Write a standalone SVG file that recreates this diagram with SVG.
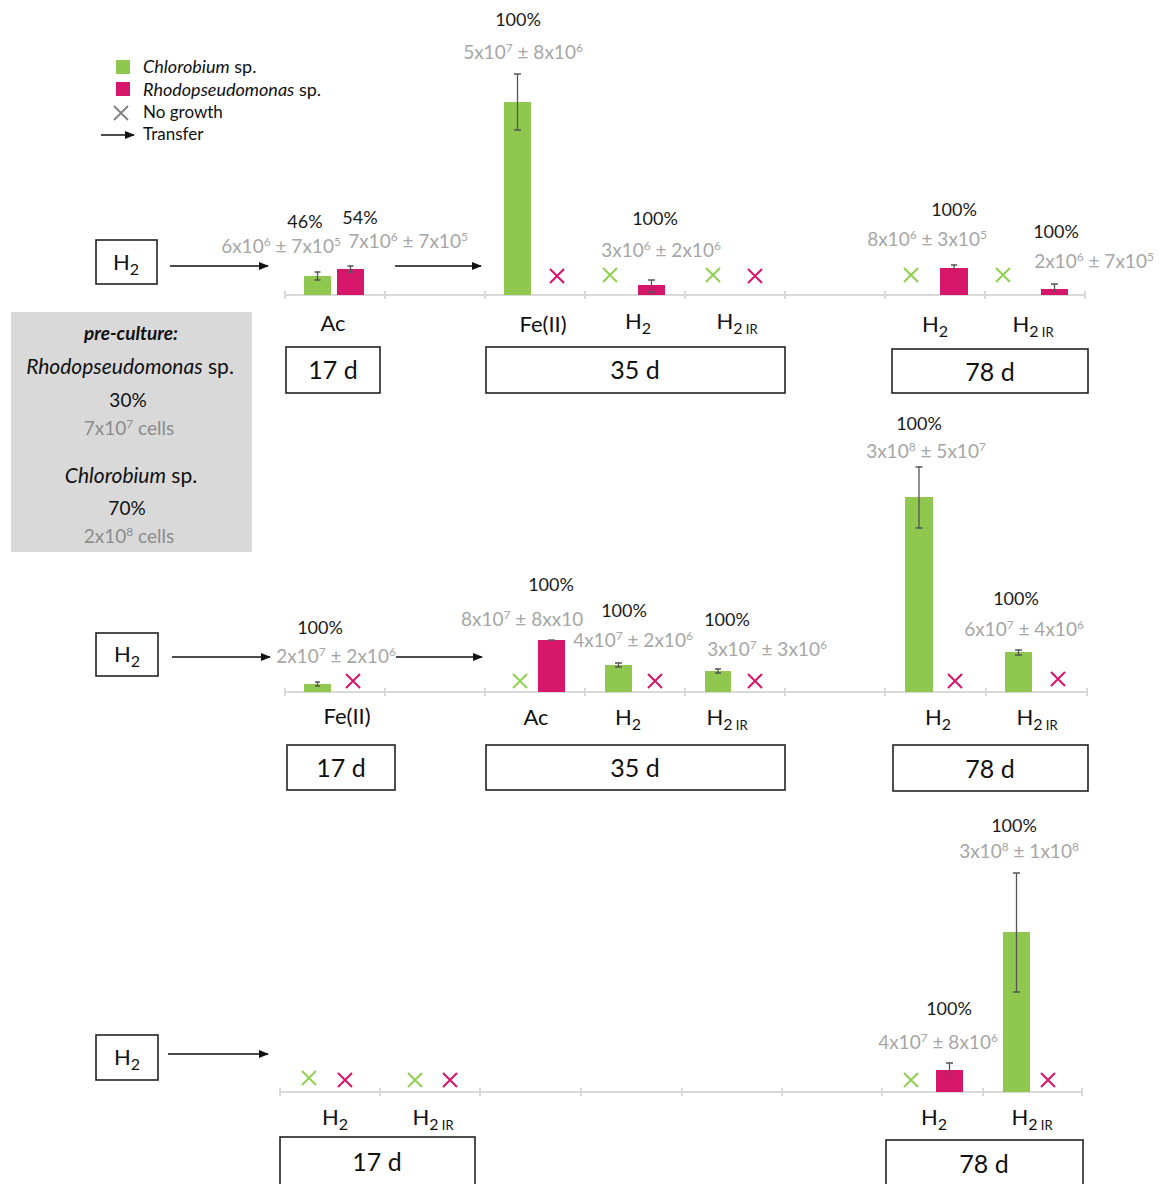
<svg xmlns="http://www.w3.org/2000/svg" xmlns:xlink="http://www.w3.org/1999/xlink" width="1159" height="1184" viewBox="0 0 1159 1184">
<defs>
<style>
text{font-family:Lato,"Open Sans","Liberation Sans",sans-serif}
.pct{font-size:18px;fill:#1a1a1a;text-anchor:middle}
.val{font-size:19px;fill:#a6a6a6;text-anchor:middle}
.cat{font-size:22px;fill:#111;text-anchor:middle}
.day{font-size:25px;fill:#111;text-anchor:middle}
.lg{font-size:17px;fill:#111}
.pc{font-size:19px;fill:#111;text-anchor:middle}
.gbar{fill:#8fc74f}
.pbar{fill:#d5166b}
.xg{stroke:#8fd14f;stroke-width:2;fill:none}
.xp{stroke:#d6146a;stroke-width:2;fill:none}
.axis{stroke:#d9d9d9;stroke-width:2;fill:none}
.err{stroke:#555;stroke-width:1.3;fill:none}
.box{fill:#fff;stroke:#222;stroke-width:1.6}
.arr{stroke:#111;stroke-width:1.6;fill:none;marker-end:url(#ah)}
</style>
<marker id="ah" viewBox="0 0 10 10" refX="9" refY="5" markerWidth="10" markerHeight="10" markerUnits="userSpaceOnUse" orient="auto">
<path d="M0,1 L10,5 L0,9 Z" fill="#111"/>
</marker>
<path id="xm" d="M-7,-7 L7,7 M7,-7 L-7,7"/>
</defs>
<rect width="1159" height="1184" fill="#fff"/>

<g id="legend">
<rect x="116" y="60" width="14" height="14" class="gbar"/>
<text class="lg" x="143" y="73" font-size="18" style="font-size:18px"><tspan font-style="italic">Chlorobium</tspan> sp.</text>
<rect x="116" y="82" width="14" height="14" class="pbar"/>
<text class="lg" x="143" y="96" style="font-size:18px"><tspan font-style="italic">Rhodopseudomonas</tspan> sp.</text>
<use xlink:href="#xm" x="121" y="113" stroke="#808080" stroke-width="1.8" fill="none"/>
<text class="lg" x="143" y="118">No growth</text>
<line x1="101" y1="135" x2="134" y2="135" class="arr"/>
<text class="lg" x="143" y="140">Transfer</text>
</g>

<g id="preculture">
<rect x="11" y="312" width="241" height="240" fill="#d9d9d9"/>
<text class="pc" x="131" y="340" font-weight="bold" font-style="italic">pre-culture:</text>
<text class="pc" x="130" y="374" style="font-size:21px"><tspan font-style="italic">Rhodopseudomonas</tspan> sp.</text>
<text class="pc" x="128" y="407">30%</text>
<text class="pc" x="129" y="435" style="fill:#8c8c8c">7x10<tspan dy="-7" font-size="12">7</tspan><tspan dy="7"> cells</tspan></text>
<text class="pc" x="131" y="483" style="font-size:21px"><tspan font-style="italic">Chlorobium</tspan> sp.</text>
<text class="pc" x="127" y="515">70%</text>
<text class="pc" x="129" y="543" style="fill:#8c8c8c">2x10<tspan dy="-7" font-size="12">8</tspan><tspan dy="7"> cells</tspan></text>
</g>

<!-- Row 1 -->
<g id="r1-h2">
<rect x="96" y="240" width="61" height="44" class="box"/>
<text class="cat" x="126" y="270">H<tspan dy="5" font-size="16">2</tspan></text>
</g>
<g id="r1-axis">
<line x1="285" y1="295" x2="1085" y2="295" class="axis"/>
<path class="axis" d="M285,291V299M385,291V299M485,291V299M585,291V299M685,291V299M785,291V299M885,291V299M985,291V299M1085,291V299"/>
</g>
<g id="r1-ac">
<rect x="304" y="276" width="27" height="19" class="gbar"/>
<path class="err" d="M317.5,272V280M314.5,272H320.5M314.5,280H320.5"/>
<rect x="337" y="269" width="27" height="26" class="pbar"/>
<path class="err" d="M350.5,266V272M347.5,266H353.5M347.5,272H353.5"/>
<text class="pct" x="305" y="228">46%</text>
<text class="pct" x="360" y="224">54%</text>
<text class="val" x="281" y="253">6x10<tspan dy="-7" font-size="12">6</tspan><tspan dy="7"> ± 7x10</tspan><tspan dy="-7" font-size="12">5</tspan></text>
<text class="val" x="408" y="248">7x10<tspan dy="-7" font-size="12">6</tspan><tspan dy="7"> ± 7x10</tspan><tspan dy="-7" font-size="12">5</tspan></text>
<text class="cat" x="333" y="331">Ac</text>
</g>
<g id="r1-fe">
<rect x="504" y="102" width="27" height="193" class="gbar"/>
<path class="err" d="M517.5,74V130M514,74H521M514,130H521"/>
<use xlink:href="#xm" x="557" y="276" class="xp"/>
<text class="pct" x="518" y="26">100%</text>
<text class="val" x="523" y="59">5x10<tspan dy="-7" font-size="12">7</tspan><tspan dy="7"> ± 8x10</tspan><tspan dy="-7" font-size="12">6</tspan></text>
<text class="cat" x="543" y="332">Fe(II)</text>
</g>
<g id="r1-h2-35">
<use xlink:href="#xm" x="610" y="275" class="xg"/>
<rect x="638" y="285" width="27" height="10" class="pbar"/>
<path class="err" d="M651.5,280V292M648,280H655M648,292H655"/>
<text class="pct" x="655" y="225">100%</text>
<text class="val" x="661" y="257">3x10<tspan dy="-7" font-size="12">6</tspan><tspan dy="7"> ± 2x10</tspan><tspan dy="-7" font-size="12">6</tspan></text>
<text class="cat" x="638" y="329">H<tspan dy="5" font-size="16">2</tspan></text>
</g>
<g id="r1-h2ir-35">
<use xlink:href="#xm" x="713" y="275" class="xg"/>
<use xlink:href="#xm" x="755" y="276" class="xp"/>
<text class="cat" x="737" y="329">H<tspan dy="5" font-size="16">2</tspan><tspan font-size="13"> IR</tspan></text>
</g>
<g id="r1-h2-78">
<use xlink:href="#xm" x="911" y="275" class="xg"/>
<rect x="940" y="268" width="28" height="27" class="pbar"/>
<path class="err" d="M954,265V270M951,265H957"/>
<text class="pct" x="954" y="216">100%</text>
<text class="val" x="927" y="246">8x10<tspan dy="-7" font-size="12">6</tspan><tspan dy="7"> ± 3x10</tspan><tspan dy="-7" font-size="12">5</tspan></text>
<text class="cat" x="935" y="332">H<tspan dy="5" font-size="16">2</tspan></text>
</g>
<g id="r1-h2ir-78">
<use xlink:href="#xm" x="1003" y="275" class="xg"/>
<rect x="1041" y="289" width="27" height="6" class="pbar"/>
<path class="err" d="M1054.5,284V292M1051,284H1058"/>
<text class="pct" x="1056" y="238">100%</text>
<text class="val" x="1094" y="268">2x10<tspan dy="-7" font-size="12">6</tspan><tspan dy="7"> ± 7x10</tspan><tspan dy="-7" font-size="12">5</tspan></text>
<text class="cat" x="1033" y="332">H<tspan dy="5" font-size="16">2</tspan><tspan font-size="13"> IR</tspan></text>
</g>
<g id="r1-d17"><rect x="286" y="347" width="94" height="46" class="box"/><text class="day" x="333" y="379">17 d</text></g>
<g id="r1-d35"><rect x="486" y="347" width="299" height="46" class="box"/><text class="day" x="635" y="379">35 d</text></g>
<g id="r1-d78"><rect x="892" y="349" width="196" height="44" class="box"/><text class="day" x="990" y="381">78 d</text></g>

<!-- Row 2 -->
<g id="r2-h2">
<rect x="96" y="633" width="62" height="43" class="box"/>
<text class="cat" x="127" y="662">H<tspan dy="5" font-size="16">2</tspan></text>
</g>
<g id="r2-axis">
<line x1="285" y1="692" x2="1087" y2="692" class="axis"/>
<path class="axis" d="M285,688V696M385,688V696M485,688V696M585,688V696M685,688V696M785,688V696M885,688V696M986,688V696M1087,688V696"/>
</g>
<g id="r2-fe">
<rect x="304" y="684" width="27" height="8" class="gbar"/>
<path class="err" d="M317.5,682V686M315,682H320M315,686H320"/>
<use xlink:href="#xm" x="353" y="681" class="xp"/>
<text class="pct" x="320" y="634">100%</text>
<text class="val" x="336" y="663">2x10<tspan dy="-7" font-size="12">7</tspan><tspan dy="7"> ± 2x10</tspan><tspan dy="-7" font-size="12">6</tspan></text>
<text class="cat" x="347" y="724">Fe(II)</text>
</g>
<g id="r2-ac">
<use xlink:href="#xm" x="520" y="681" class="xg"/>
<rect x="538" y="640" width="27" height="52" class="pbar"/>
<path class="err" d="M548,640H555"/>
<text class="pct" x="551" y="591">100%</text>
<text class="val" x="461" y="626" style="text-anchor:start">8x10<tspan dy="-7" font-size="12">7</tspan><tspan dy="7"> ± 8xx10</tspan></text>
<text class="cat" x="536" y="725">Ac</text>
</g>
<g id="r2-h2-35">
<rect x="605" y="665" width="27" height="27" class="gbar"/>
<path class="err" d="M618.5,663V667M615,663H622M615,667H622"/>
<use xlink:href="#xm" x="655" y="681" class="xp"/>
<text class="pct" x="624" y="617">100%</text>
<text class="val" x="633" y="647">4x10<tspan dy="-7" font-size="12">7</tspan><tspan dy="7"> ± 2x10</tspan><tspan dy="-7" font-size="12">6</tspan></text>
<text class="cat" x="628" y="725">H<tspan dy="5" font-size="16">2</tspan></text>
</g>
<g id="r2-h2ir-35">
<rect x="705" y="671" width="26" height="21" class="gbar"/>
<path class="err" d="M718,669V673M715,669H721M715,673H721"/>
<use xlink:href="#xm" x="755" y="681" class="xp"/>
<text class="pct" x="727" y="626">100%</text>
<text class="val" x="767" y="656">3x10<tspan dy="-7" font-size="12">7</tspan><tspan dy="7"> ± 3x10</tspan><tspan dy="-7" font-size="12">6</tspan></text>
<text class="cat" x="727" y="725">H<tspan dy="5" font-size="16">2</tspan><tspan font-size="13"> IR</tspan></text>
</g>
<g id="r2-h2-78">
<rect x="905" y="497" width="28" height="195" class="gbar"/>
<path class="err" d="M919,467V528M915.5,467H922.5M915.5,528H922.5"/>
<use xlink:href="#xm" x="955" y="681" class="xp"/>
<text class="pct" x="919" y="430">100%</text>
<text class="val" x="926" y="458">3x10<tspan dy="-7" font-size="12">8</tspan><tspan dy="7"> ± 5x10</tspan><tspan dy="-7" font-size="12">7</tspan></text>
<text class="cat" x="938" y="725">H<tspan dy="5" font-size="16">2</tspan></text>
</g>
<g id="r2-h2ir-78">
<rect x="1005" y="652" width="27" height="40" class="gbar"/>
<path class="err" d="M1018.5,650V655M1015,650H1022M1015,655H1022"/>
<use xlink:href="#xm" x="1058" y="679" class="xp"/>
<text class="pct" x="1016" y="605">100%</text>
<text class="val" x="1024" y="636">6x10<tspan dy="-7" font-size="12">7</tspan><tspan dy="7"> ± 4x10</tspan><tspan dy="-7" font-size="12">6</tspan></text>
<text class="cat" x="1037" y="725">H<tspan dy="5" font-size="16">2</tspan><tspan font-size="13"> IR</tspan></text>
</g>
<g id="r2-d17"><rect x="287" y="745" width="108" height="45" class="box"/><text class="day" x="341" y="777">17 d</text></g>
<g id="r2-d35"><rect x="486" y="745" width="299" height="45" class="box"/><text class="day" x="635" y="777">35 d</text></g>
<g id="r2-d78"><rect x="893" y="745" width="195" height="46" class="box"/><text class="day" x="990" y="778">78 d</text></g>

<!-- Row 3 -->
<g id="r3-h2">
<rect x="96" y="1035" width="62" height="45" class="box"/>
<text class="cat" x="127" y="1065">H<tspan dy="5" font-size="16">2</tspan></text>
</g>
<g id="r3-axis">
<line x1="280" y1="1092" x2="1082" y2="1092" class="axis"/>
<path class="axis" d="M280,1088V1096M380,1088V1096M480,1088V1096M581,1088V1096M682,1088V1096M782,1088V1096M882,1088V1096M983,1088V1096M1082,1088V1096"/>
</g>
<g id="r3-h2-17">
<use xlink:href="#xm" x="309" y="1078" class="xg"/>
<use xlink:href="#xm" x="345" y="1080" class="xp"/>
<text class="cat" x="335" y="1125">H<tspan dy="5" font-size="16">2</tspan></text>
</g>
<g id="r3-h2ir-17">
<use xlink:href="#xm" x="415" y="1080" class="xg"/>
<use xlink:href="#xm" x="450" y="1080" class="xp"/>
<text class="cat" x="433" y="1125">H<tspan dy="5" font-size="16">2</tspan><tspan font-size="13"> IR</tspan></text>
</g>
<g id="r3-h2-78">
<use xlink:href="#xm" x="911" y="1080" class="xg"/>
<rect x="936" y="1070" width="27" height="22" class="pbar"/>
<path class="err" d="M949.5,1063V1078M946,1063H953"/>
<text class="pct" x="949" y="1015">100%</text>
<text class="val" x="938" y="1049">4x10<tspan dy="-7" font-size="12">7</tspan><tspan dy="7"> ± 8x10</tspan><tspan dy="-7" font-size="12">6</tspan></text>
<text class="cat" x="934" y="1125">H<tspan dy="5" font-size="16">2</tspan></text>
</g>
<g id="r3-h2ir-78">
<rect x="1003" y="932" width="27" height="160" class="gbar"/>
<path class="err" d="M1016.5,873V992M1013,873H1020M1013,992H1020"/>
<use xlink:href="#xm" x="1048" y="1080" class="xp"/>
<text class="pct" x="1014" y="832">100%</text>
<text class="val" x="1019" y="858">3x10<tspan dy="-7" font-size="12">8</tspan><tspan dy="7"> ± 1x10</tspan><tspan dy="-7" font-size="12">8</tspan></text>
<text class="cat" x="1032" y="1125">H<tspan dy="5" font-size="16">2</tspan><tspan font-size="13"> IR</tspan></text>
</g>
<g id="r3-d17"><rect x="280" y="1137" width="195" height="50" class="box"/><text class="day" x="377" y="1171">17 d</text></g>
<g id="r3-d78"><rect x="886" y="1140" width="197" height="50" class="box"/><text class="day" x="984" y="1173">78 d</text></g>

<g id="connectors">
<line x1="170" y1="266" x2="268" y2="266" class="arr"/>
<line x1="395" y1="266" x2="481" y2="266" class="arr"/>
<line x1="172" y1="657" x2="270" y2="657" class="arr"/>
<line x1="396" y1="657" x2="482" y2="657" class="arr"/>
<line x1="168" y1="1054" x2="268" y2="1054" class="arr"/>
</g>
</svg>
